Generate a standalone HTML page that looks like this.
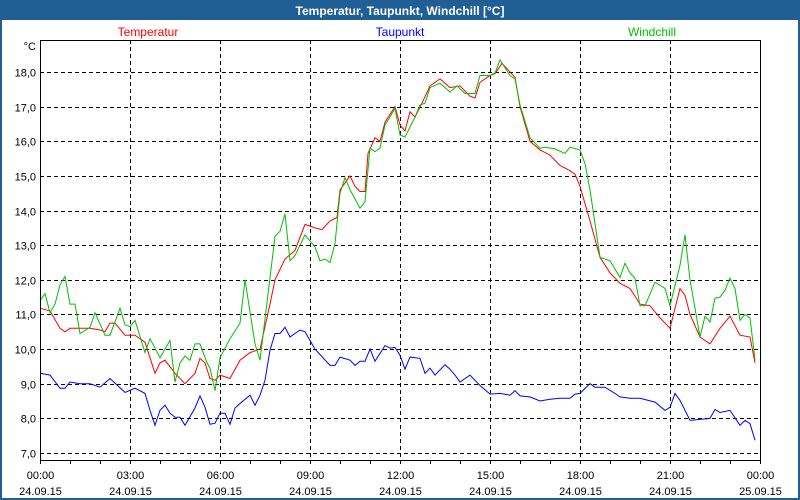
<!DOCTYPE html>
<html><head><meta charset="utf-8"><style>
html,body{margin:0;padding:0;background:#fff}
svg{display:block}
text{font-family:"Liberation Sans",sans-serif}
</style></head><body>
<svg id="chart" width="800" height="500" xmlns="http://www.w3.org/2000/svg">
<rect x="0" y="0" width="800" height="500" fill="#1f5f96"/>
<rect x="2" y="20" width="796" height="478" fill="#ffffff"/>
<text x="400" y="15" text-anchor="middle" font-size="12" font-weight="bold" fill="#ffffff">Temperatur, Taupunkt, Windchill [°C]</text>
<text x="148" y="36" text-anchor="middle" font-size="12" fill="#ff0000">Temperatur</text>
<text x="400" y="36" text-anchor="middle" font-size="12" fill="#0000ff">Taupunkt</text>
<text x="652" y="36" text-anchor="middle" font-size="12" fill="#00c000">Windchill</text>
<text x="36" y="50" text-anchor="end" font-size="11" fill="#000">°C</text>
<g id="grid"></g><g id="series"></g><g id="axes"></g>
</svg>
<script>
const yTicks=[7,8,9,10,11,12,13,14,15,16,17,18];
const xTickHours=[0,3,6,9,12,15,18,21,24];
const xTimeLabels=["00:00","03:00","06:00","09:00","12:00","15:00","18:00","21:00","00:00"];
const xDateLabels=["24.09.15","24.09.15","24.09.15","24.09.15","24.09.15","24.09.15","24.09.15","24.09.15","25.09.15"];
// times in minutes since 00:00
const tempTimes=[0,20,40,50,60,80,100,120,130,140,150,170,190,210,220,230,240,250,270,290,310,320,330,340,350,360,380,400,420,440,460,470,480,490,510,530,550,564,580,594,600,620,630,640,650,656,670,680,690,710,720,730,740,750,764,780,800,820,840,860,870,880,900,910,924,940,950,960,980,1000,1020,1040,1060,1070,1080,1100,1120,1140,1160,1180,1200,1220,1240,1260,1280,1290,1300,1320,1340,1360,1380,1400,1420,1430];
const tempValues=[11.18,11.1,10.6,10.5,10.6,10.6,10.6,10.55,10.5,10.75,10.75,10.4,10.4,10.2,9.75,9.3,9.6,9.68,9.3,9.0,9.3,9.73,9.6,9.15,9.1,9.25,9.15,9.68,9.9,10.0,11.3,12.0,12.3,12.6,12.85,13.6,13.5,13.45,13.7,13.8,14.6,15.0,14.7,14.55,14.55,15.65,16.1,16.0,16.55,17.0,16.47,16.3,16.85,16.7,17.1,17.6,17.8,17.55,17.6,17.3,17.25,17.7,17.9,17.95,18.25,18.0,17.85,17.0,16.0,15.75,15.6,15.3,15.15,15.05,14.7,13.7,12.65,12.2,11.9,11.75,11.3,11.25,10.9,10.6,11.75,11.55,11.0,10.35,10.15,10.6,10.95,10.4,10.35,9.6];
const chillTimes=[0,10,20,30,40,50,60,70,80,100,110,130,140,160,170,180,190,210,220,240,260,270,280,290,300,310,320,334,340,350,360,380,400,410,430,440,470,480,490,500,510,530,550,560,570,580,590,600,610,620,640,650,660,670,680,690,700,710,720,730,750,760,770,780,800,820,834,850,870,880,900,910,920,940,950,960,980,1000,1010,1030,1050,1060,1080,1090,1100,1120,1140,1160,1170,1180,1190,1200,1210,1230,1250,1260,1280,1290,1300,1320,1330,1340,1350,1360,1370,1380,1390,1400,1410,1420,1430];
const chillValues=[11.4,11.6,11.05,11.3,11.85,12.1,11.3,11.3,10.45,10.63,11.05,10.4,10.4,11.18,10.7,10.65,10.83,9.9,10.3,9.75,10.25,9.05,9.6,9.8,9.68,10.15,10.15,9.6,9.45,8.8,9.75,10.3,10.75,12.0,10.15,9.68,13.25,13.4,13.9,12.55,12.7,13.3,12.95,12.55,12.6,12.5,13.05,14.5,14.95,14.6,14.07,14.25,15.8,15.7,15.8,16.47,16.7,16.95,16.18,16.12,16.7,17.05,17.1,17.55,17.68,17.42,17.6,17.38,17.38,17.9,17.9,17.97,18.35,17.9,17.8,17.05,16.1,15.8,15.83,15.78,15.65,15.83,15.75,15.35,14.6,12.65,12.55,12.07,12.48,12.2,12.05,11.25,11.25,11.93,11.75,11.25,12.42,13.3,12.0,10.35,10.95,10.78,11.47,11.5,11.7,12.05,11.75,10.83,11.0,10.9,9.7];
const dewTimes=[0,20,40,50,60,80,100,120,140,170,190,210,220,230,240,250,260,270,280,290,310,320,330,340,350,360,370,380,390,400,420,430,440,450,460,470,480,490,500,520,530,540,550,580,590,600,620,630,640,650,660,670,690,700,710,720,730,740,760,770,780,790,810,820,830,840,860,880,900,920,940,950,960,980,1000,1020,1040,1060,1070,1080,1100,1110,1130,1150,1160,1180,1200,1230,1250,1260,1270,1280,1300,1320,1340,1350,1360,1380,1400,1410,1420,1430];
const dewValues=[9.3,9.25,8.87,8.87,9.05,9.0,9.0,8.9,9.15,8.75,8.87,8.72,8.23,7.8,8.23,8.38,8.15,8.03,8.03,7.8,8.3,8.65,8.32,7.83,7.86,8.15,8.15,7.83,8.3,8.43,8.67,8.38,8.67,9.1,9.97,10.45,10.45,10.63,10.35,10.55,10.5,10.25,10.0,9.53,9.53,9.77,9.68,9.53,9.65,9.65,10.0,9.65,10.1,10.03,10.05,9.82,9.42,9.77,9.73,9.3,9.45,9.25,9.55,9.42,9.25,9.05,9.25,8.95,8.7,8.72,8.67,8.8,8.65,8.62,8.5,8.55,8.58,8.58,8.7,8.72,9.0,8.9,8.9,8.72,8.62,8.58,8.58,8.47,8.23,8.32,8.72,8.52,7.94,7.97,8.0,8.26,8.17,8.23,7.8,7.94,7.85,7.37];
const X0=40,X1=760,YTOP=40,YBOT=460;
function xScale(min){return X0+(X1-X0)*min/1440;}
function yScale(v){return 453-(v-7)*34.636;}
const NS="http://www.w3.org/2000/svg";
const grid=document.getElementById('grid'),axes=document.getElementById('axes'),ser=document.getElementById('series');
function mk(tag,attrs,parent){const e=document.createElementNS(NS,tag);for(const k in attrs)e.setAttribute(k,attrs[k]);parent.appendChild(e);return e;}
yTicks.forEach(v=>{const y=Math.round(yScale(v))+0.5;
 const l=mk('line',{x1:X0,x2:X1,y1:y,y2:y,stroke:'#000','stroke-dasharray':'4,3','stroke-width':1},grid);
 
 
 const t=mk('text',{x:36,y:y+4,'text-anchor':'end','font-size':11,fill:'#000'},axes);
 t.textContent=v.toFixed(1).replace('.',',');
 
 
});
xTickHours.forEach((h,i)=>{const x=Math.round(xScale(h*60))+0.5;
 if(h>0&&h<24){const l=mk('line',{x1:x,x2:x,y1:YTOP,y2:YBOT,stroke:'#000','stroke-dasharray':'4,3','stroke-width':1},grid);
 
 }
 const t1=mk('text',{x:x,y:479,'text-anchor':'middle','font-size':11,fill:'#000'},axes);
 t1.textContent=xTimeLabels[i];
 
 
 const t2=mk('text',{x:x,y:495,'text-anchor':'middle','font-size':11,fill:'#000'},axes);
 t2.textContent=xDateLabels[i];
 
 
});
for(let h=0;h<=24;h++){const x=Math.round(xScale(h*60))+0.5;
 const t=mk('line',{x1:x,x2:x,y1:YBOT,y2:YBOT+4,stroke:'#000'},axes);
 
 }
const fr=mk('rect',{x:X0+0.5,y:YTOP+0.5,width:X1-X0,height:YBOT-YTOP,fill:'none',stroke:'#000'},axes);


function line(ts,vs,color,name){let n=Math.min(ts.length,vs.length);let d='';
 for(let i=0;i<n;i++)d+=(i?'L':'M')+xScale(ts[i]).toFixed(1)+','+yScale(vs[i]).toFixed(1);
 const p=mk('path',{d:d,fill:'none',stroke:color,'stroke-width':1},ser);
 
 }
line(dewTimes,dewValues,'#0000ff','taupunkt-line');
line(tempTimes,tempValues,'#ff0000','temperatur-line');
line(chillTimes,chillValues,'#00c000','windchill-line');
</script>
</body></html>
